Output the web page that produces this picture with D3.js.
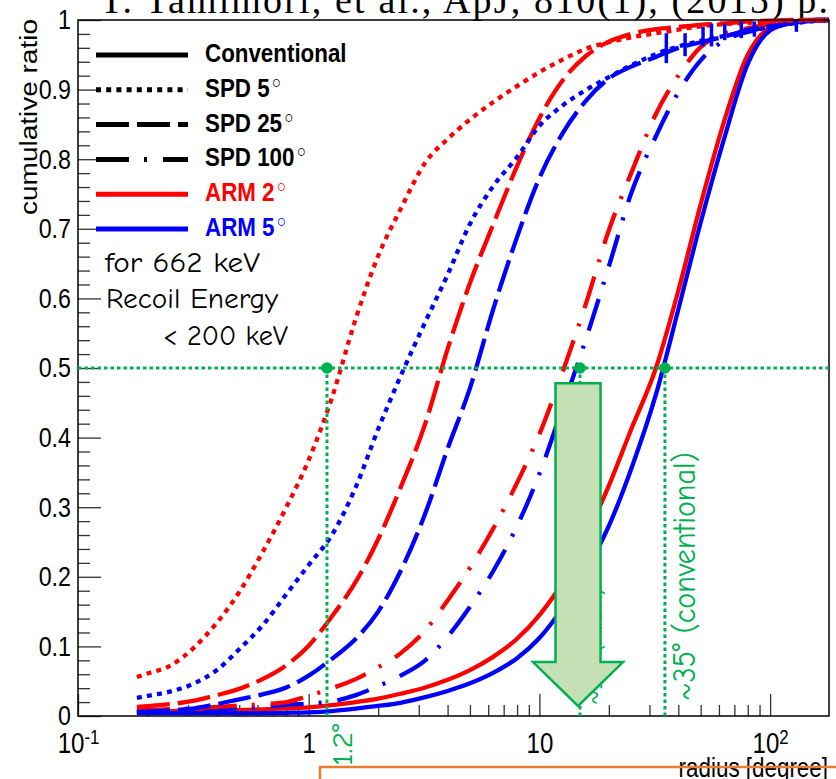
<!DOCTYPE html>
<html>
<head>
<meta charset="utf-8">
<script src="https://cdn.jsdelivr.net/npm/d3@7"></script>
<style>
  html, body { margin: 0; padding: 0; background: #fff; overflow: hidden; }
  svg { display: block; }
</style>
</head>
<body>
<svg id="chart" width="836" height="779"></svg>
<script>
// Cumulative ratio of the reconstructed radius, sampled on a common radius grid [degree]
const radius = [0.18, 0.2, 0.25, 0.32, 0.4, 0.5, 0.63, 0.8, 1.0, 1.26, 1.6, 2.0, 2.5, 3.2, 4.0, 5.0,
                6.3, 8.0, 10, 12.6, 16, 20, 25, 32, 40, 50, 63, 80, 100, 126, 160, 180];

const conventionalARM2 = [.006, .0065, .007, .0075, .008, .0085, .0095, .011, .0125, .0155, .020, .025, .032, .041, .052, .066,
                          .085, .111, .145, .192, .26, .331, .412, .50, .611, .735, .853, .950, .989, .998, 1, 1];
const conventionalARM5 = [.004, .004, .004, .004, .004, .004, .0042, .0046, .0052, .007, .0105, .0144, .019, .027, .036, .047,
                          .062, .083, .112, .155, .21, .273, .355, .462, .584, .709, .828, .937, .985, .996, 1, 1];
const spd5ARM2 = [.056, .061, .072, .099, .134, .178, .235, .300, .368, .457, .571, .661, .728, .795, .829, .857,
                  .882, .905, .925, .943, .959, .968, .975, .981, .986, .991, .994, .996, .998, .999, 1, 1];
const spd5ARM5 = [.026, .029, .035, .047, .066, .096, .13, .175, .217, .26, .329, .412, .488, .566, .634, .707,
                  .761, .803, .848, .877, .900, .918, .935, .951, .962, .970, .977, .983, .990, .995, .999, 1];
const spd25ARM2 = [.013, .014, .017, .022, .030, .039, .053, .073, .101, .143, .193, .254, .328, .42, .527, .622,
                   .706, .790, .859, .913, .949, .969, .980, .987, .990, .993, .995, .998, .999, 1, 1, 1];
const spd25ARM5 = [.006, .0066, .008, .011, .017, .024, .031, .041, .058, .082, .111, .150, .208, .291, .384, .471,
                   .584, .688, .773, .837, .885, .916, .933, .947, .960, .968, .976, .986, .991, .996, 1, 1];
const spd100ARM2 = [.008, .0085, .010, .011, .013, .015, .017, .020, .029, .040, .053, .070, .090, .123, .166, .213,
                    .269, .335, .405, .494, .595, .698, .780, .865, .920, .961, .980, .988, .994, .997, .999, 1];
const spd100ARM5 = [.005, .0055, .0065, .008, .0095, .011, .013, .016, .018, .021, .030, .043, .058, .080, .114, .157,
                    .208, .273, .348, .443, .544, .646, .751, .833, .896, .942, .970, .983, .991, .996, .999, 1];

// Statistical fluctuation bars on the ARM 5 SPD curves near saturation: [radius, low, high]
const arm5Fluctuations = [[35.5, .938, .981], [42.8, .948, .981], [51.2, .962, .990], [55.7, .962, .995],
                          [63.6, .971, .995], [75, .974, .998], [85.5, .976, .998], [130, .983, 1.0]];

// Axis ticks
const xTickValues = [0.1, 1, 10, 100];
const xTickLabels = [["10", "-1"], ["1", ""], ["10", ""], ["10", "2"]];
const yTickValues = [0, 0.1, 0.2, 0.3, 0.4, 0.5, 0.6, 0.7, 0.8, 0.9, 1];
const yTickLabels = ["0", "0.1", "0.2", "0.3", "0.4", "0.5", "0.6", "0.7", "0.8", "0.9", "1"];

// Legend entries
const legendNames = ["Conventional", "SPD 5", "SPD 25", "SPD 100", "ARM 2", "ARM 5"];
const legendDegree = [false, true, true, true, true, true];

// Half-containment radii marked on the plot
const halfLevel = 0.5;
const markedRadii = [1.2, 15, 35];

// ---------------------------------------------------------------
const svg = d3.select("#chart");
const W = 836, H = 779;
const plot = { left: 78, right: 829, top: 20, bottom: 716 };

const x = d3.scaleLog().domain([0.1, 180]).range([plot.left, plot.right]);
const y = d3.scaleLinear().domain([0, 1]).range([plot.bottom, plot.top]);

const RED = "#ff0000", BLUE = "#0000ff", GREEN = "#00b050";
const SANS = "'Liberation Sans', Arial, Helvetica, sans-serif";
const HAND = "'Comic Sans MS', 'Comic Neue', 'Open Sans', sans-serif";
const SQ = 0.83; // horizontal squeeze of the plot lettering

const dashStyle = {
  solid: null,
  dotted: "5,5.2",
  dashed: "33,8",
  dashdot: "33,15,3,16"
};

const series = [
  { values: conventionalARM2, color: RED,  dash: "solid" },
  { values: conventionalARM5, color: BLUE, dash: "solid" },
  { values: spd100ARM5,       color: BLUE, dash: "dashdot" },
  { values: spd100ARM2,       color: RED,  dash: "dashdot" },
  { values: spd25ARM5,        color: BLUE, dash: "dashed" },
  { values: spd25ARM2,        color: RED,  dash: "dashed" },
  { values: spd5ARM5,         color: BLUE, dash: "dotted" },
  { values: spd5ARM2,         color: RED,  dash: "dotted" }
];

svg.append("rect").attr("width", W).attr("height", H).attr("fill", "#fff");

// Header citation line (partly above the page edge)
svg.append("text")
  .attr("x", 100).attr("y", 13)
  .attr("font-family", "'Liberation Serif', 'Times New Roman', serif")
  .attr("font-size", 38)
  .attr("textLength", 728).attr("lengthAdjust", "spacing")
  .attr("fill", "#000")
  .text("T. Tamimori, et al., ApJ, 810(1), (2015) p.");

// Clip region for the curves
svg.append("defs").append("clipPath").attr("id", "plotClip")
  .append("rect").attr("x", plot.left).attr("y", plot.top - 4)
  .attr("width", plot.right - plot.left).attr("height", plot.bottom - plot.top + 4);

// ---- axes ----
const squeezeText = (sel) => {
  sel.each(function () {
    const t = d3.select(this);
    const tx = +t.attr("x") || 0;
    t.attr("x", tx / SQ).attr("transform", `scale(${SQ},1)`);
  });
};

const yAxis = d3.axisLeft(y).tickValues(yTickValues).tickSize(-23).tickPadding(7)
  .tickFormat((d, i) => yTickLabels[i]);
const gy = svg.append("g").attr("transform", `translate(${plot.left},0)`).call(yAxis);
gy.select(".domain").remove();
gy.attr("font-family", SANS).attr("font-size", 28);
gy.selectAll(".tick line").attr("stroke", "#333").attr("stroke-width", 1.3);
gy.selectAll(".tick text").attr("fill", "#000").call(squeezeText);

const yMinor = d3.range(0, 1.0001, 0.02).filter(v => Math.abs(v * 10 - Math.round(v * 10)) > 1e-6);
const gyMinor = svg.append("g").attr("transform", `translate(${plot.left},0)`)
  .call(d3.axisLeft(y).tickValues(yMinor).tickSize(-12).tickFormat(""));
gyMinor.select(".domain").remove();
gyMinor.selectAll(".tick line").attr("stroke", "#333").attr("stroke-width", 1.3);

const xAxis = d3.axisBottom(x).tickValues(xTickValues).tickSize(-22).tickPadding(16)
  .tickFormat(() => "");
const gx = svg.append("g").attr("transform", `translate(0,${plot.bottom})`).call(xAxis);
gx.select(".domain").remove();
gx.attr("font-family", SANS).attr("font-size", 29);
gx.selectAll(".tick line").attr("stroke", "#333").attr("stroke-width", 1.3);
gx.selectAll(".tick text").each(function (d, i) {
  const t = d3.select(this).attr("fill", "#000");
  t.append("tspan").text(xTickLabels[i][0]);
  if (xTickLabels[i][1]) {
    t.append("tspan").attr("dy", "-0.42em").attr("font-size", "0.7em").text(xTickLabels[i][1]);
  }
}).call(squeezeText);

const xMinor = [0.1, 1, 10].flatMap(dec => [2, 3, 4, 5, 6, 7, 8, 9].map(m => m * dec)).filter(v => v < 180);
const gxMinor = svg.append("g").attr("transform", `translate(0,${plot.bottom})`)
  .call(d3.axisBottom(x).tickValues(xMinor).tickSize(-11).tickFormat(""));
gxMinor.select(".domain").remove();
gxMinor.selectAll(".tick line").attr("stroke", "#333").attr("stroke-width", 1.3);

// Axis titles
svg.append("text")
  .attr("transform", `translate(37,19) scale(${SQ},1) rotate(-90)`)
  .attr("text-anchor", "end")
  .attr("font-family", SANS).attr("font-size", 28).attr("fill", "#000")
  .text("cumulative ratio");

svg.append("text")
  .attr("transform", `translate(828,777) scale(${SQ},1)`)
  .attr("text-anchor", "end")
  .attr("font-family", SANS).attr("font-size", 27).attr("fill", "#000")
  .text("radius [degree]");

// ---- curves ----
const line = d3.line()
  .x(d => x(d[0]))
  .y(d => y(d[1]))
  .curve(d3.curveMonotoneX);

const gCurves = svg.append("g").attr("clip-path", "url(#plotClip)");
series.forEach(s => {
  gCurves.append("path")
    .datum(radius.map((r, i) => [r, s.values[i]]))
    .attr("d", line)
    .attr("fill", "none")
    .attr("stroke", s.color)
    .attr("stroke-width", 4.3)
    .attr("stroke-dasharray", dashStyle[s.dash])
    .attr("stroke-linejoin", "round");
});

gCurves.selectAll("line.fluct")
  .data(arm5Fluctuations)
  .join("line")
  .attr("class", "fluct")
  .attr("x1", d => x(d[0])).attr("x2", d => x(d[0]))
  .attr("y1", d => y(d[1])).attr("y2", d => y(d[2]))
  .attr("stroke", BLUE).attr("stroke-width", 3.5);

// Frame
svg.append("rect")
  .attr("x", plot.left).attr("y", plot.top)
  .attr("width", plot.right - plot.left).attr("height", plot.bottom - plot.top)
  .attr("fill", "none").attr("stroke", "#000").attr("stroke-width", 1.5);

// ---- legend ----
const legendColor = ["#000", "#000", "#000", "#000", RED, BLUE];
const legendDash = [dashStyle.solid, dashStyle.dotted, dashStyle.dashed, dashStyle.dashdot, null, null];
const legendRowY = d3.scaleLinear().domain([0, 5]).range([55, 229]);
const gLegend = svg.append("g");
legendNames.forEach((name, i) => {
  const ly = legendRowY(i);
  gLegend.append("line")
    .attr("x1", 96).attr("x2", 188).attr("y1", ly).attr("y2", ly)
    .attr("stroke", legendColor[i]).attr("stroke-width", 5)
    .attr("stroke-dasharray", legendDash[i]);
  const t = gLegend.append("text")
    .attr("transform", `translate(205,${ly + 7}) scale(0.86,1)`)
    .attr("font-family", SANS).attr("font-size", 26).attr("font-weight", "bold")
    .attr("fill", legendColor[i]);
  t.append("tspan").text(name);
  if (legendDegree[i]) {
    t.append("tspan").attr("font-family", "'DejaVu Sans', sans-serif")
      .attr("font-weight", "normal").attr("font-size", 27)
      .attr("dy", -4).attr("dx", 0).text("◦");
  }
});

// Condition note
const noteLines = [
  { text: "for 662 keV", x: 105, y: 272, len: 155 },
  { text: "Recoil Energy", x: 106, y: 308, len: 172 },
  { text: "< 200 keV", x: 163, y: 345, len: 125 }
];
svg.append("g").selectAll("text").data(noteLines).join("text")
  .attr("x", d => d.x).attr("y", d => d.y)
  .attr("textLength", d => d.len).attr("lengthAdjust", "spacingAndGlyphs")
  .attr("font-family", HAND).attr("font-size", 29).attr("fill", "#000")
  .text(d => d.text);

// ---- half-containment markers ----
const gMark = svg.append("g");
gMark.append("line")
  .attr("x1", plot.left).attr("x2", plot.right)
  .attr("y1", y(halfLevel)).attr("y2", y(halfLevel))
  .attr("stroke", GREEN).attr("stroke-width", 3).attr("stroke-dasharray", "3.5,3");
gMark.selectAll("line.drop").data(markedRadii).join("line")
  .attr("class", "drop")
  .attr("x1", d => x(d)).attr("x2", d => x(d))
  .attr("y1", y(halfLevel)).attr("y2", plot.bottom)
  .attr("stroke", GREEN).attr("stroke-width", 3).attr("stroke-dasharray", "3.5,3");
gMark.selectAll("circle").data(markedRadii).join("circle")
  .attr("cx", d => x(d)).attr("cy", y(halfLevel)).attr("r", 5.8)
  .attr("fill", GREEN);

// Rotated radius labels
const rotLabel = (xPos, yPos, len, txt, size) => svg.append("text")
  .attr("transform", `translate(${xPos},${yPos}) rotate(-90)`)
  .attr("textLength", len).attr("lengthAdjust", "spacingAndGlyphs")
  .attr("font-family", HAND).attr("font-size", size).attr("fill", GREEN)
  .text(txt);

rotLabel(x(markedRadii[0]) + 25, 766, 42, "1.2°", 28);
rotLabel(x(markedRadii[2]) + 30, 701, 249, "~35°  (conventional)", 32);
rotLabel(x(markedRadii[1]) + 22, 705, 118, "~15°  (ARM)", 28);

// Downward arrow over the ARM curves
const ax = x(markedRadii[1]) - 2;
const shaftTop = y(0.478), headBase = y(0.0775), tip = y(0.0145);
const arrowPts = [
  [ax - 22.5, shaftTop], [ax + 22.5, shaftTop], [ax + 22.5, headBase], [ax + 45, headBase],
  [ax, tip], [ax - 45, headBase], [ax - 22.5, headBase]
];
svg.append("polygon")
  .attr("points", arrowPts.map(p => p.join(",")).join(" "))
  .attr("fill", "#c5e0b4").attr("stroke", GREEN).attr("stroke-width", 2.5)
  .attr("stroke-linejoin", "miter");

// Orange callout box running off the bottom edge
svg.append("rect")
  .attr("x", 320).attr("y", 767).attr("width", 600).attr("height", 100)
  .attr("fill", "none").attr("stroke", "#ed7d31").attr("stroke-width", 2.5);
</script>
</body>
</html>
